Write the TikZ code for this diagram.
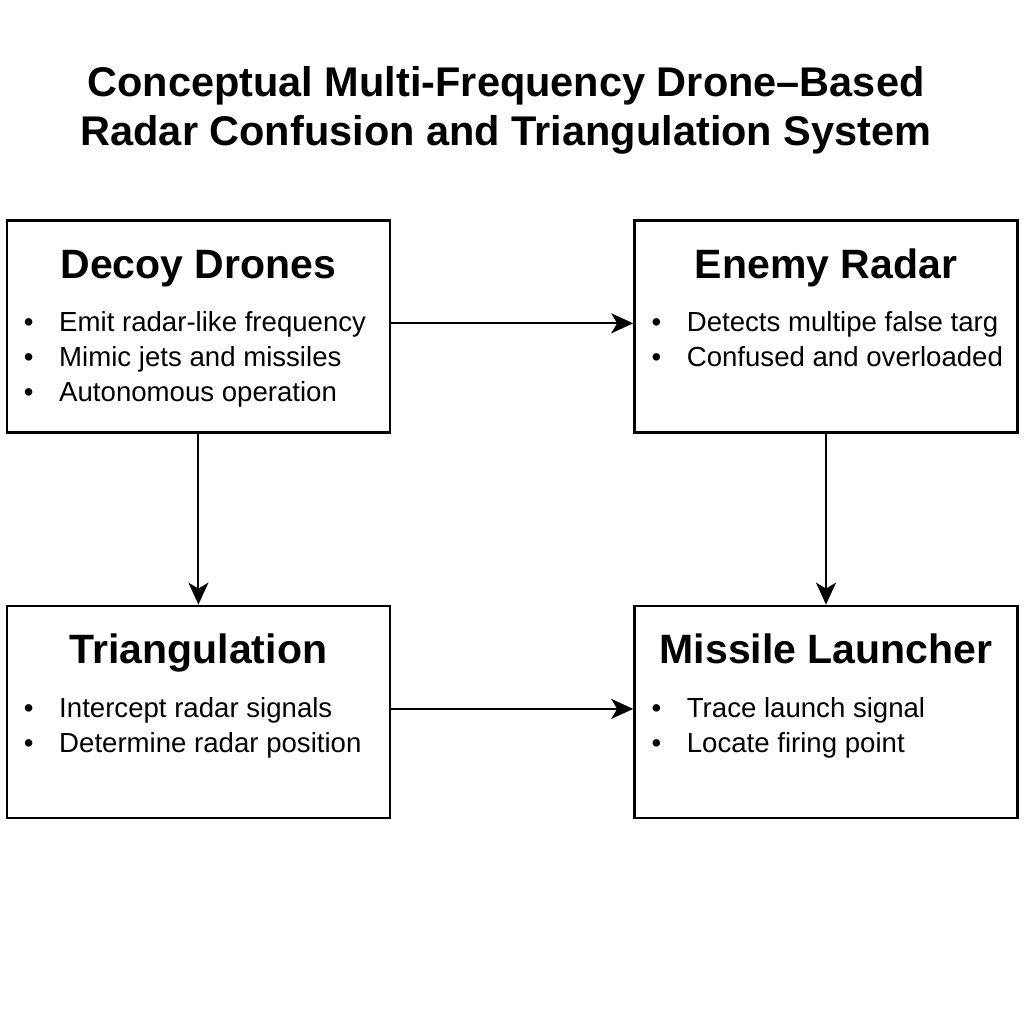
\documentclass[tikz,border=0pt]{standalone}
\usepackage{fontspec}
\setmainfont{Liberation Sans}
\usetikzlibrary{arrows.meta, positioning}
\tikzset{
    block/.style={rectangle, draw, line width=1.3pt, minimum width=191.5pt, minimum height=106pt, inner sep=0pt},
    head/.style={font=\fontsize{20.5}{24}\selectfont\bfseries, inner sep=0pt, anchor=base},
    items/.style={font=\fontsize{13.8}{17.5}\selectfont, inner sep=0pt, anchor=north west},
    arrow/.style={-{Stealth[length=11pt, width=10pt, inset=3pt]}, line width=1pt},
}
\newcommand{\itemlist}[1]{\begin{tabular}{@{}l@{\hspace{12.8pt}}l@{}}#1\end{tabular}}

\begin{document}
\begin{tikzpicture}
    \fill[white] (0,0) rectangle (512pt,-512pt);
    \useasboundingbox (0,0) rectangle (512pt,-512pt);

    % TITLE
    \node[font=\fontsize{20.75}{24.5}\selectfont\bfseries, align=center, anchor=base, inner sep=0pt] (title) at (253pt,-72.5pt) {Conceptual Multi-Frequency Drone–Based\\Radar Confusion and Triangulation System};

    % DECOY DRONES
    \node[block, anchor=north west] (decoy) at (2.8pt,-109.5pt) {};
    \node[head] (decoyhead) at ([yshift=-29.5pt]decoy.north) {Decoy Drones};
    \node[items] (decoylist) at ([xshift=9pt, yshift=-43.75pt]decoy.north west) {\itemlist{
        • & Emit radar-like frequency\\
        • & Mimic jets and missiles\\
        • & Autonomous operation}};

    % ENEMY RADAR
    \node[block, right=121pt of decoy] (enemy) {};
    \node[head] (enemyhead) at ([yshift=-29.5pt]enemy.north) {Enemy Radar};
    \node[items] (enemylist) at ([xshift=9pt, yshift=-43.75pt]enemy.north west) {\itemlist{
        • & Detects multipe false targ\\
        • & Confused and overloaded}};

    % TRIANGULATION
    \node[block, below=85.5pt of decoy] (tri) {};
    \node[head] (trihead) at ([yshift=-29.5pt]tri.north) {Triangulation};
    \node[items] (trilist) at ([xshift=9pt, yshift=-43.75pt]tri.north west) {\itemlist{
        • & Intercept radar signals\\
        • & Determine radar position}};

    % MISSILE LAUNCHER
    \node[block, below=85.5pt of enemy] (launcher) {};
    \node[head] (launcherhead) at ([yshift=-29.5pt]launcher.north) {Missile Launcher};
    \node[items] (launcherlist) at ([xshift=9pt, yshift=-43.75pt]launcher.north west) {\itemlist{
        • & Trace launch signal\\
        • & Locate firing point}};

    % Arrows
    \draw[arrow] ([yshift=1.5pt]decoy.east) -- ([yshift=1.5pt]enemy.west);
    \draw[arrow] (decoy) -- (tri);
    \draw[arrow] (enemy) -- (launcher);
    \draw[arrow] ([yshift=1.5pt]tri.east) -- ([yshift=1.5pt]launcher.west);

\end{tikzpicture}
\end{document}
